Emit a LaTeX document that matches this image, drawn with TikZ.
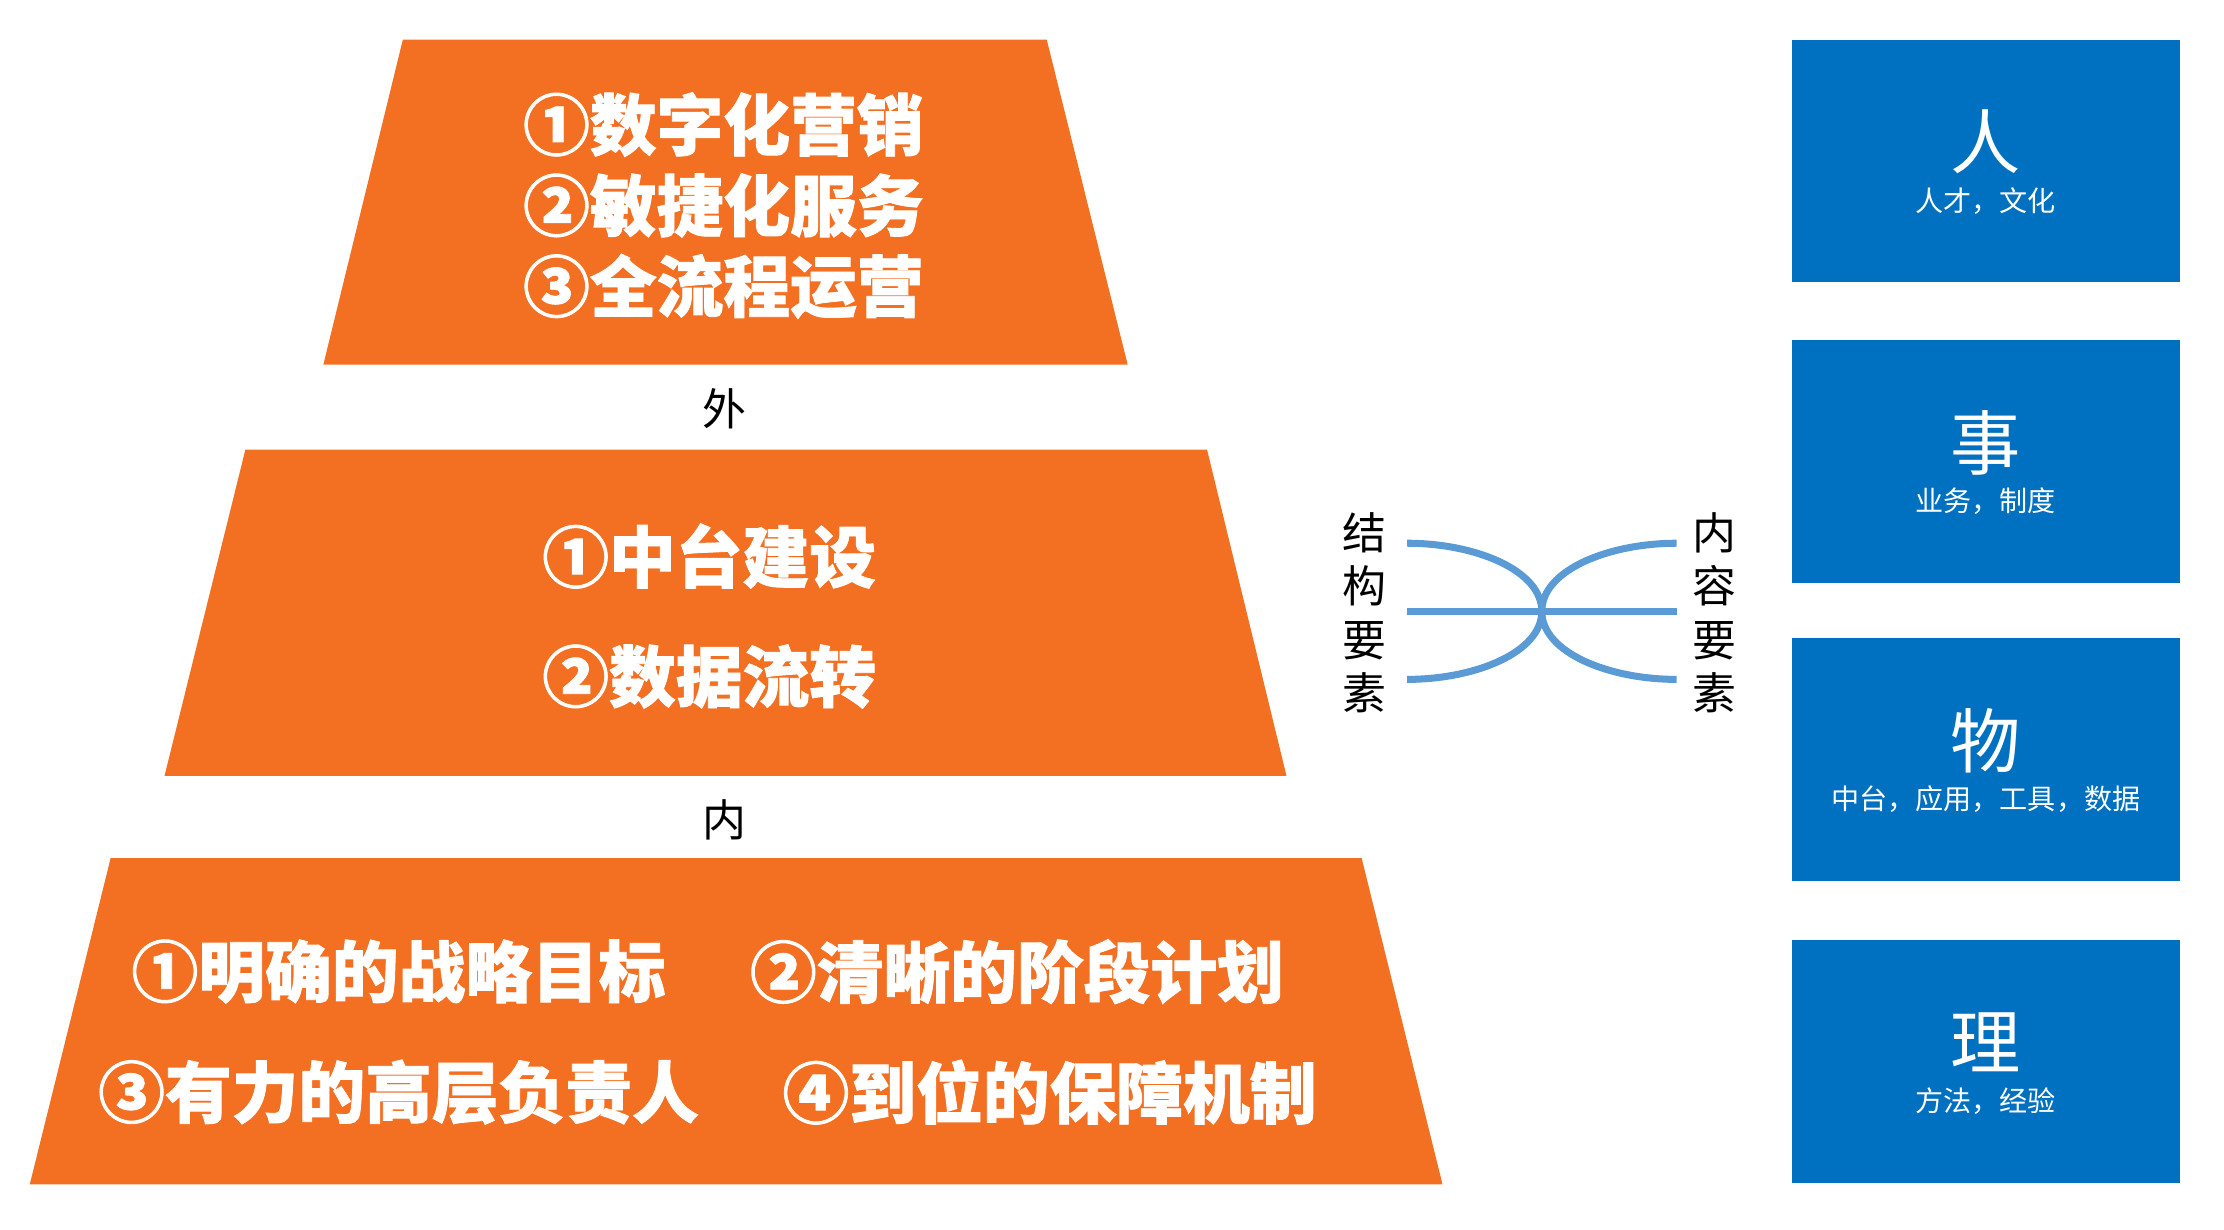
\documentclass[tikz,border=0pt]{standalone}
\usepackage{fontspec}
\newfontfamily\cjk{Noto Sans CJK SC}
\newfontfamily\cjkheavy{Noto Sans CJK SC}[UprightFeatures={FakeBold=0},BoldFeatures={FakeBold=1.2}]
\usetikzlibrary{calc,positioning}
\definecolor{layorange}{HTML}{F37022}
\definecolor{eleblue}{HTML}{0070C0}
\definecolor{linkblue}{HTML}{5B9BD5}
\tikzstyle{layer} = [fill=layorange,draw=none]
\tikzstyle{laytext} = [text=white,font=\cjkheavy\bfseries\fontsize{19}{23}\selectfont,align=center,inner sep=0pt]
\tikzstyle{elebox} = [rectangle,fill=eleblue,minimum width=3.886cm,minimum height=2.425cm,inner sep=0pt]
\tikzstyle{eletitle} = [text=white,font=\cjk\fontsize{20}{24}\selectfont,inner sep=0pt]
\tikzstyle{elesub} = [text=white,font=\cjk\fontsize{8}{10}\selectfont,inner sep=0pt]
\tikzstyle{sidetext} = [font=\cjk\fontsize{12.5}{15.2}\selectfont,align=center,inner sep=0pt]
\tikzstyle{link} = [draw=linkblue,line width=2pt]

\begin{document}
\begin{tikzpicture}[x=0.014184cm,y=-0.014184cm]
\useasboundingbox (0,0) rectangle (1568,867);

% three layers
\fill[layer] (284,28)--(738,28)--(795,257)--(228,257)--cycle;
\fill[layer] (173,317)--(851,317)--(907,547)--(116,547)--cycle;
\fill[layer] (78,605)--(960,605)--(1017,835)--(21,835)--cycle;

\node (lay1) [laytext] at (510,145) {①数字化营销\\②敏捷化服务\\③全流程运营};
\node (lay2a) [laytext] at (500,392) {①中台建设};
\node (lay2b) [laytext] at (500,477) {②数据流转};
\node (lay3a) [laytext] at (281,685) {①明确的战略目标};
\node (lay3b) [laytext] at (717,685) {②清晰的阶段计划};
\node (lay3c) [laytext] at (281,770) {③有力的高层负责人};
\node (lay3d) [laytext] at (740,770) {④到位的保障机制};

\node (out) [sidetext] at (511,288) {外};
\node (in) [sidetext] at (511,578) {内};

% element boxes
\foreach \i/\y/\t/\s in {1/113.5/人/人才，文化,2/325.5/事/业务，制度,3/535.5/物/中台，应用，工具，数据,4/748.5/理/方法，经验}
{
	\node (box\i) [elebox] at (1400,\y) {};
	\node (title\i) [eletitle] at ($(box\i.center)+(0,-13.5)$) {\t};
	\node (sub\i) [elesub] at ($(box\i.center)+(0,28)$) {\s};
}

% structure / content
\node (struct) [sidetext] at (962,432) {结\\构\\要\\素};
\node (content) [sidetext] at (1209,432) {内\\容\\要\\素};

\coordinate (l1) at (992,383);
\coordinate (l2) at (992,431);
\coordinate (l3) at (992,479);
\coordinate (r1) at (1182,383);
\coordinate (r2) at (1182,431);
\coordinate (r3) at (1182,479);
\coordinate (mid) at (1087,431);

\draw[link] (l2)--(r2);
\draw[link] (l1) .. controls (1040,383) and (1087,402) .. (mid) .. controls (1087,460) and (1040,479) .. (l3);
\draw[link] (r1) .. controls (1134,383) and (1087,402) .. (mid) .. controls (1087,460) and (1134,479) .. (r3);

\end{tikzpicture}
\end{document}
